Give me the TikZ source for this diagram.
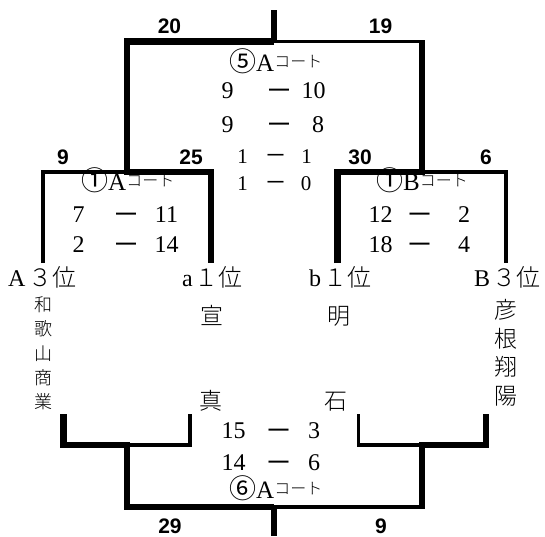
\documentclass[tikz,border=0pt]{standalone}
\usepackage{fontspec}
\setmainfont{Liberation Serif}
\IfFontExistsTF{Noto Sans CJK JP Light}
  {\newfontfamily\jp{Noto Sans CJK JP Light}}
  {\newfontfamily\jp{Noto Sans CJK JP}}
\newfontfamily\jpr{Noto Sans CJK JP}
\newfontfamily\bsans{Liberation Sans}
\newcommand\myCourt{\raisebox{4pt}{\jp\fontsize{16}{16}\selectfont コート}}
\newcommand\myDash{\raisebox{3pt}{\bsans\bfseries —}}
\newcommand\myDashS{\raisebox{4pt}{\bsans\bfseries —}}
\newcommand\myCirc[1]{{\jpr\fontsize{27}{27}\selectfont #1}}
\tikzset{
  thk/.style={line width=6.5pt, line join=miter},
  thn/.style={line width=3.3pt, line join=miter},
  sc/.style={inner sep=0pt, anchor=base, font=\fontsize{24}{24}\selectfont},
  scs/.style={inner sep=0pt, anchor=base, font=\fontsize{21}{21}\selectfont},
  ds/.style={inner sep=0pt, anchor=base, font=\fontsize{20}{20}\selectfont},
  dss/.style={inner sep=0pt, anchor=base, font=\fontsize{16}{16}\selectfont},
  bn/.style={inner sep=0pt, anchor=base, font=\bsans\bfseries\fontsize{21}{21}\selectfont},
  lab/.style={inner sep=0pt, anchor=base west, font=\fontsize{24}{24}\selectfont},
  nm/.style={inner sep=0pt, anchor=base, font=\jp\fontsize{23}{23}\selectfont},
  nms/.style={inner sep=0pt, anchor=base, font=\jp\fontsize{18}{18}\selectfont},
  ct/.style={inner sep=0pt, anchor=base west, font=\fontsize{25}{25}\selectfont},
}
\begin{document}
\begin{tikzpicture}[x=1pt,y=-1pt]
\useasboundingbox (0,0) rectangle (545,536);
% ---------- top bracket coordinates
\coordinate (T0) at (274,10);
\coordinate (T1) at (274,41.5);
\coordinate (FL) at (127,41.5);
\coordinate (FR) at (422,41.5);
\coordinate (SL) at (127,172);
\coordinate (SR) at (422,172);
\coordinate (L1) at (43,172);
\coordinate (L1b) at (43,263);
\coordinate (L2) at (211,172);
\coordinate (L2b) at (211,263);
\coordinate (R1) at (337.5,172);
\coordinate (R1b) at (337.5,263);
\coordinate (R2) at (506,172);
\coordinate (R2b) at (506,263);
% ---------- bottom bracket coordinates
\coordinate (BL1t) at (63.5,414);
\coordinate (BL1) at (63.5,445);
\coordinate (BLJ) at (127,445);
\coordinate (BL2) at (190,445);
\coordinate (BL2t) at (190,414);
\coordinate (BR1t) at (358.5,414);
\coordinate (BR1) at (358.5,445);
\coordinate (BRJ) at (422,445);
\coordinate (BR2) at (486,445);
\coordinate (BR2t) at (486,414);
\coordinate (BFL) at (127,507);
\coordinate (BFR) at (422,507);
\coordinate (BC) at (274,507);
\coordinate (BC0) at (274,536);
% ---------- top lines
\draw[thk] (T0) -- (T1);
\draw[thk] (T1) -- (FL) -- (SL) -- (L2) -- (L2b);
\draw[thk, shorten >=-1.65pt] (R1b) -- (R1) -- (SR) -- (FR);
\draw[thn] (T1) -- (FR);
\draw[thn] (L1b) -- (L1) -- (SL);
\draw[thn] (SR) -- (R2) -- (R2b);
% ---------- bottom lines
\draw[thk] (BL1t) -- (BL1) -- (BLJ) -- (BFL) -- (BC);
\draw[thk] (BC) -- (BC0);
\draw[thk, shorten >=-1.65pt] (BR2t) -- (BR2) -- (BRJ) -- (BFR);
\draw[thn] (BFR) -- (BC);
\draw[thn] (BL2t) -- (BL2) -- (BLJ);
\draw[thn] (BR1t) -- (BR1) -- (BRJ);
% ---------- bold scores
\node[bn] (n20) at (169.5,33) {20};
\node[bn] (n19) at (380.5,33) {19};
\node[bn] (n9a) at (63,164) {9};
\node[bn] (n25) at (191,164) {25};
\node[bn] (n30) at (360,164) {30};
\node[bn] (n6) at (486,164) {6};
\node[bn] (n29) at (170,533) {29};
\node[bn] (n9b) at (381,533) {9};
% ---------- final (5) scores
\node[ct] (c5) at (229,71) {\myCirc{⑤}A\myCourt};
\node[sc] (f1a) at (227.5,98) {9};
\node[ds] (f1d) at (279,98) {\myDash};
\node[sc] (f1b) at (313.5,98) {10};
\node[sc] (f2a) at (227.5,132) {9};
\node[ds] (f2d) at (279,132) {\myDash};
\node[sc] (f2b) at (318,132) {8};
\node[scs] (f3a) at (242.5,163) {1};
\node[dss] (f3d) at (275.5,163) {\myDashS};
\node[scs] (f3b) at (306.5,163) {1};
\node[scs] (f4a) at (242.5,190) {1};
\node[dss] (f4d) at (275.5,190) {\myDashS};
\node[scs] (f4b) at (306,190) {0};
% ---------- semifinal A
\node[ct] (c1a) at (81,190) {\myCirc{①}A\myCourt};
\node[sc] (a1a) at (78.5,222) {7};
\node[ds] (a1d) at (126,222) {\myDash};
\node[sc] (a1b) at (166.5,222) {11};
\node[sc] (a2a) at (78.5,252) {2};
\node[ds] (a2d) at (126,252) {\myDash};
\node[sc] (a2b) at (166.5,252) {14};
% ---------- semifinal B
\node[ct] (c1b) at (376,190) {\myCirc{①}B\myCourt};
\node[sc] (b1a) at (380.5,222) {12};
\node[ds] (b1d) at (419.5,222) {\myDash};
\node[sc] (b1b) at (464,222) {2};
\node[sc] (b2a) at (380.5,252) {18};
\node[ds] (b2d) at (419.5,252) {\myDash};
\node[sc] (b2b) at (464,252) {4};
% ---------- seed labels
\node[lab] (lA3) at (8,286) {A\kern3pt{\jp ３位}};
\node[lab] (la1) at (182,286) {a\kern2pt{\jp １位}};
\node[lab] (lb1) at (309,286) {b\kern2pt{\jp １位}};
\node[lab] (lB3) at (474,286) {B\kern2pt{\jp ３位}};
% ---------- team names
\node[nms] (w1) at (43,311) {和};
\node[nms] (w2) at (43,335.5) {歌};
\node[nms] (w3) at (43,360) {山};
\node[nms] (w4) at (43,384) {商};
\node[nms] (w5) at (43,408) {業};
\node[nm] (h1) at (506,318) {彦};
\node[nm] (h2) at (506,347) {根};
\node[nm] (h3) at (506,375.5) {翔};
\node[nm] (h4) at (506,404) {陽};
\node[nm] (sen) at (212,324) {宣};
\node[nm] (mei) at (339,324) {明};
\node[nm] (shin) at (211,409) {真};
\node[nm] (ishi) at (336,409) {石};
% ---------- match (6)
\node[sc] (g1a) at (233.5,438) {15};
\node[ds] (g1d) at (278.5,438) {\myDash};
\node[sc] (g1b) at (314,438) {3};
\node[sc] (g2a) at (233.5,470) {14};
\node[ds] (g2d) at (278.5,470) {\myDash};
\node[sc] (g2b) at (314,470) {6};
\node[ct] (c6) at (229,498) {\myCirc{⑥}A\myCourt};
\end{tikzpicture}
\end{document}
